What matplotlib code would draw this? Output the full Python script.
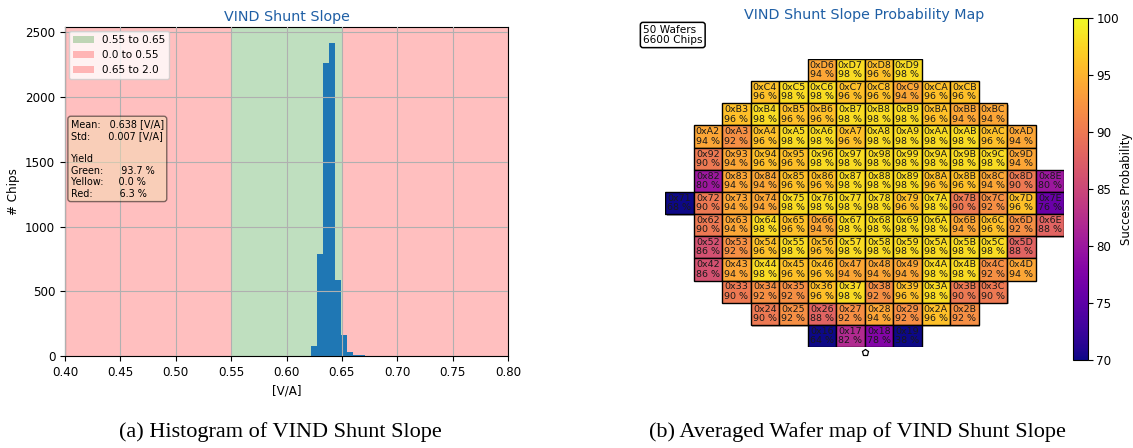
import numpy as np
import matplotlib
matplotlib.use("Agg")
import matplotlib.pyplot as plt
import matplotlib.patheffects as pe
from matplotlib.colors import Normalize
from matplotlib.cm import ScalarMappable

# ---------------- histogram data ----------------
bin_edges = [0.6220, 0.6274, 0.6328, 0.6382, 0.6436, 0.6490, 0.6544, 0.6598, 0.6652, 0.6706]
bin_counts = [80, 790, 2265, 2420, 588, 162, 31, 8, 8]

band_labels = ["0.55 to 0.65", "0.0 to 0.55", "0.65 to 2.0"]
band_ranges = [(0.55, 0.65), (0.0, 0.55), (0.65, 2.0)]
band_colors = ["green", "red", "red"]

mean_val = 0.638
std_val = 0.007
yield_green = 93.7
yield_yellow = 0.0
yield_red = 6.3

# ---------------- wafer map data ----------------
row_names = ["D", "C", "B", "A", "9", "8", "7", "6", "5", "4", "3", "2", "1"]
row_first_col = [6, 4, 3, 2, 2, 2, 1, 2, 2, 2, 3, 4, 6]
row_probs = [
    [94, 98, 96, 98],
    [96, 98, 98, 96, 96, 94, 96, 96],
    [96, 98, 96, 96, 98, 98, 98, 96, 94, 94],
    [94, 92, 96, 98, 98, 96, 98, 98, 98, 98, 96, 94],
    [90, 94, 96, 96, 98, 98, 98, 98, 98, 98, 98, 94],
    [80, 94, 94, 96, 96, 98, 98, 98, 96, 96, 94, 90, 80],
    [68, 90, 94, 94, 98, 98, 98, 98, 96, 98, 90, 92, 96, 76],
    [90, 94, 98, 96, 94, 98, 98, 98, 98, 94, 96, 92, 88],
    [86, 92, 96, 98, 96, 98, 98, 98, 98, 98, 98, 88],
    [86, 94, 98, 96, 96, 94, 94, 94, 98, 98, 92, 94],
    [90, 92, 92, 96, 98, 92, 96, 98, 90, 90],
    [90, 92, 88, 92, 94, 92, 96, 92],
    [64, 82, 78, 38],
]
n_wafers = 50
n_chips = 6600

title_blue = "#1f5fa5"

fig = plt.figure(figsize=(11.33, 4.48), dpi=100)

# ---------------- (a) histogram ----------------
ax = fig.add_axes([65 / 1133, 1 - 356 / 448, 443 / 1133, 329 / 448])
for lab, (lo, hi), col in zip(band_labels, band_ranges, band_colors):
    ax.axvspan(lo, hi, color=col, alpha=0.25, lw=0, label=lab, zorder=0)

edges = np.array(bin_edges)
centers = 0.5 * (edges[:-1] + edges[1:])
ax.hist(centers, bins=edges, weights=bin_counts, color="C0", zorder=2)

ax.set_xlim(0.4, 0.8)
ax.set_xticks(np.arange(0.40, 0.801, 0.05))
ax.grid(True, color="#b0b0b0", lw=0.8, zorder=1)
ax.set_axisbelow(False)
for g in ax.get_xgridlines() + ax.get_ygridlines():
    g.set_zorder(1)
ax.tick_params(labelsize=8.6)
ax.set_xlabel("[V/A]", fontsize=8.6)
ax.set_ylabel("# Chips", fontsize=8.6)
ax.set_title("VIND Shunt Slope", fontsize=10.3, color=title_blue, pad=4)
ax.legend(loc="upper left", fontsize=7.5, framealpha=0.8, borderaxespad=0.35)

stats = (f"Mean:   {mean_val:.3f} [V/A]\n"
         f"Std:      {std_val:.3f} [V/A]\n\n"
         f"Yield\n"
         f"Green:      {yield_green:.1f} %\n"
         f"Yellow:     {yield_yellow:.1f} %\n"
         f"Red:         {yield_red:.1f} %")
ax.text(0.013, 0.72, stats, transform=ax.transAxes, fontsize=6.9, va="top", ha="left",
        bbox=dict(boxstyle="round,pad=0.3", facecolor="wheat", alpha=0.5, edgecolor="black"),
        zorder=5)

# ---------------- (b) wafer map ----------------
axm = fig.add_axes([665 / 1133, 1 - 347 / 448, 399 / 1133, 288 / 448])
cmap = plt.get_cmap("plasma")
norm = Normalize(vmin=70, vmax=100)

xs, ys, vals, labels = [], [], [], []
for ri, (rname, c0, probs) in enumerate(zip(row_names, row_first_col, row_probs)):
    yrow = len(row_names) - ri
    for k, p in enumerate(probs):
        col = c0 + k
        xs.append(col)
        ys.append(yrow)
        vals.append(p)
        labels.append(f"0x{rname}{col:X}\n{p} %")

xs = np.array(xs)
ys = np.array(ys)
vals = np.array(vals)
bars = axm.bar(xs, 1.0, bottom=ys - 0.5, width=1.0, color=cmap(norm(vals)),
               edgecolor="black", linewidth=1.0)
for b in bars:
    b.set_path_effects([pe.SimplePatchShadow(offset=(1.2, -1.2), alpha=0.35), pe.Normal()])
for x, y, t in zip(xs, ys, labels):
    axm.text(x, y, t, ha="center", va="center", fontsize=6.8, color="#1a1a1a",
             linespacing=1.05)

axm.plot([7.5], [0.27], marker="p", ms=5, mfc="white", mec="black", mew=0.9,
         clip_on=False, zorder=5)
axm.set_xlim(0.5, 14.5)
axm.set_ylim(0.5, 13.5)
axm.axis("off")
axm.set_title("VIND Shunt Slope Probability Map", fontsize=10.3, color=title_blue, pad=29)

fig.text(643 / 1133, 1 - 35 / 448, f"{n_wafers} Wafers\n{n_chips} Chips", fontsize=7.6,
         ha="left", va="center", linespacing=1.0,
         bbox=dict(boxstyle="round,pad=0.25", facecolor="white", edgecolor="black", lw=1.1))

cax = fig.add_axes([1073 / 1133, 1 - 360 / 448, 15 / 1133, 342 / 448])
sm = ScalarMappable(norm=norm, cmap=cmap)
cb = fig.colorbar(sm, cax=cax)
cb.set_ticks([70, 75, 80, 85, 90, 95, 100])
cb.ax.tick_params(labelsize=8.6, pad=2.5)
cb.set_label("Success Probability", fontsize=8.4, labelpad=1)

# ---------------- captions ----------------
cap_font = dict(family="Liberation Serif", fontsize=16, ha="center", va="center")
fig.text(280 / 1133, 1 - 432 / 448, "(a) Histogram of VIND Shunt Slope", **cap_font)
fig.text(857 / 1133, 1 - 432 / 448, "(b) Averaged Wafer map of VIND Shunt Slope", **cap_font)

fig.savefig("out.png", dpi=100)
